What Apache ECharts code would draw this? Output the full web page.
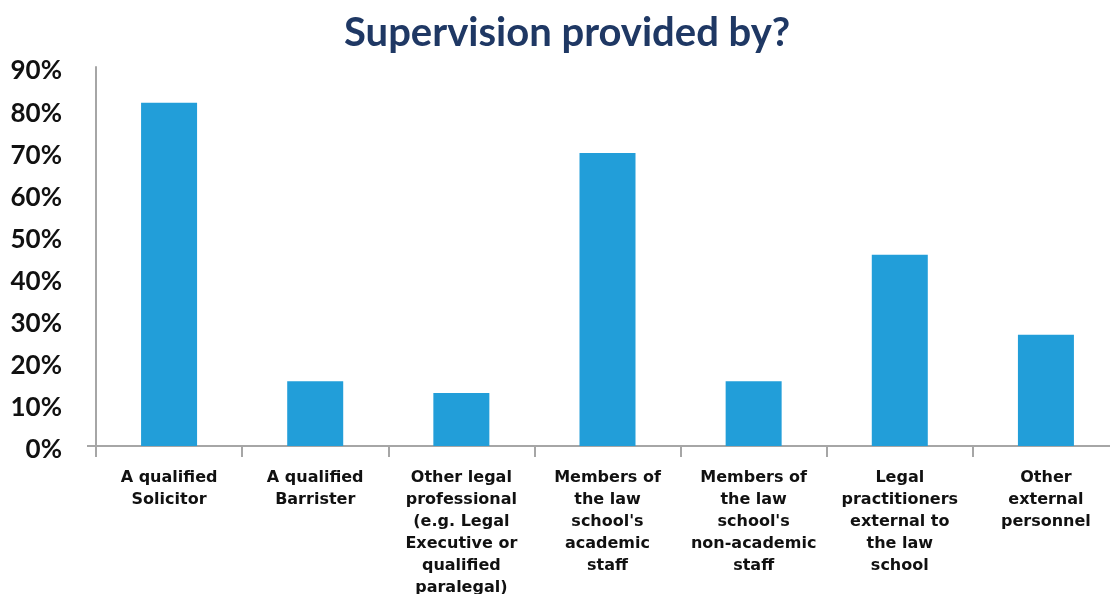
<!DOCTYPE html>
<html>
<head>
<meta charset="utf-8">
<script src="https://cdn.jsdelivr.net/npm/echarts@6/dist/echarts.min.js"></script>
<style>html,body{margin:0;padding:0;background:#fff}#c{width:1110px;height:594px}</style>
</head>
<body>
<div id="c"></div>
<script>
const categories = [
  "A qualified\nSolicitor",
  "A qualified\nBarrister",
  "Other legal\nprofessional\n(e.g. Legal\nExecutive or\nqualified\nparalegal)",
  "Members of\nthe law\nschool's\nacademic\nstaff",
  "Members of\nthe law\nschool's\nnon-academic\nstaff",
  "Legal\npractitioners\nexternal to\nthe law\nschool",
  "Other\nexternal\npersonnel"
];
const values = [81.5, 15.4, 12.6, 69.6, 15.4, 45.4, 26.4];
const yTicks = [0, 10, 20, 30, 40, 50, 60, 70, 80, 90];

const chart = echarts.init(document.getElementById('c'), null, {renderer: 'canvas'});
chart.setOption({
  animation: false,
  title: {
    text: 'Supervision provided by?',
    left: 339, top: 8,
    textStyle: {fontFamily: 'Lato', fontWeight: 'bold', fontSize: 40, color: '#1F3864'}
  },
  grid: {left: 96, width: 1023, top: 67, bottom: 594 - 446, containLabel: false, outerBoundsMode: 'none'},
  xAxis: {
    type: 'category',
    data: categories,
    axisLine: {lineStyle: {color: '#A6A6A6', width: 2}},
    axisTick: {show: true, length: 11, alignWithLabel: false, lineStyle: {color: '#A6A6A6', width: 2}},
    axisLabel: {interval: 0, margin: 21, fontFamily: 'DejaVu Sans', fontWeight: 'bold', fontSize: 16, lineHeight: 22, color: '#111'}
  },
  yAxis: {
    type: 'value',
    min: 0, max: 90, interval: 10,
    splitLine: {show: false},
    axisLine: {show: true, lineStyle: {color: '#A6A6A6', width: 2}},
    axisTick: {show: true, customValues: [0], length: 9, lineStyle: {color: '#A6A6A6', width: 2}},
    axisLabel: {
      margin: 34, verticalAlign: 'middle',
      formatter: v => yTicks.indexOf(v) >= 0 ? '{s| }\n{v|' + v + '%}' : '',
      rich: {
        s: {fontSize: 1, lineHeight: 8},
        v: {fontFamily: 'Lato', fontWeight: 'bold', fontSize: 26, lineHeight: 30, color: '#111'}
      }
    }
  },
  series: [{
    type: 'bar',
    data: values,
    barWidth: 56,
    itemStyle: {color: '#229ED9'}
  }]
});
</script>
</body>
</html>
